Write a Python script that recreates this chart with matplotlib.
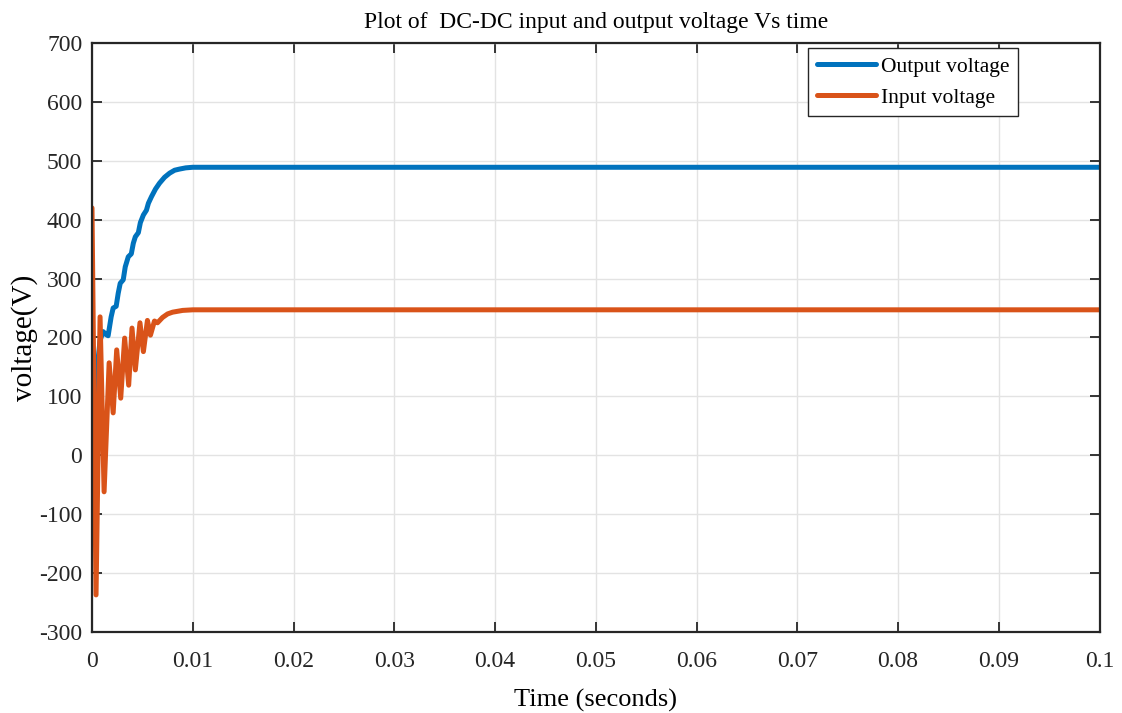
import matplotlib
matplotlib.use("Agg")
import matplotlib.pyplot as plt

plt.rcParams['font.family'] = ['Liberation Serif', 'DejaVu Serif']
plt.rcParams['axes.unicode_minus'] = False

# Output (boost stage) voltage vs time
t_out = [0.0, 0.0004, 0.0008, 0.0011, 0.0014, 0.0016, 0.0019, 0.0021, 0.0024,
         0.0026, 0.0028, 0.0031, 0.0033, 0.0036, 0.0039, 0.0041, 0.0043, 0.0046,
         0.0048, 0.0051, 0.0054, 0.0056, 0.0059, 0.0063, 0.0067, 0.0072, 0.0077,
         0.0082, 0.0087, 0.0093, 0.0100, 0.1]
v_out = [0, 130, 195, 210, 205, 203, 235, 250, 253,
         275, 292, 298, 320, 337, 342, 360, 371, 378,
         395, 408, 416, 428, 439, 452, 462, 472, 479,
         484, 486, 488, 489, 489]

# Input voltage vs time
t_in = [0.0, 0.0004, 0.0008, 0.0012, 0.0017, 0.0021, 0.00245, 0.00285, 0.00324,
        0.00364, 0.00397, 0.0043, 0.00476, 0.0051, 0.0055, 0.0058, 0.0062, 0.0065,
        0.0070, 0.0075, 0.0080, 0.0090, 0.0100, 0.1]
v_in = [420, -237, 235, -62, 157, 72, 179, 97, 199,
        119, 216, 145, 225, 176, 229, 204, 228, 225,
        234, 240, 243, 246, 247, 247]

x_ticks = [0, 0.01, 0.02, 0.03, 0.04, 0.05, 0.06, 0.07, 0.08, 0.09, 0.1]
x_labels = ['0', '0.01', '0.02', '0.03', '0.04', '0.05', '0.06', '0.07', '0.08', '0.09', '0.1']
y_ticks = [-300, -200, -100, 0, 100, 200, 300, 400, 500, 600, 700]
y_labels = ['-300', '-200', '-100', '0', '100', '200', '300', '400', '500', '600', '700']

fig = plt.figure(figsize=(11.22, 7.13), dpi=100)
ax = fig.add_axes([0.082, 0.1136, 0.898, 0.8261])

ax.plot(t_out, v_out, color='#0072BD', lw=3.6, label='Output voltage',
        solid_joinstyle='round', solid_capstyle='round')
ax.plot(t_in, v_in, color='#D95319', lw=3.6, label='Input voltage',
        solid_joinstyle='round', solid_capstyle='round')

ax.set_xlim(0, 0.1)
ax.set_ylim(-300, 700)
ax.set_xticks(x_ticks)
ax.set_xticklabels(x_labels)
ax.set_yticks(y_ticks)
ax.set_yticklabels(y_labels)
ax.tick_params(direction='in', length=7, width=1.3, top=True, right=True,
               labelsize=17, colors='#262626')
ax.tick_params(axis='x', pad=14)
ax.tick_params(axis='y', pad=7)
ax.grid(True, color='#e3e3e3', lw=1.0)
ax.set_axisbelow(True)
for s in ax.spines.values():
    s.set_linewidth(1.6)
    s.set_color('#262626')

ax.set_title('Plot of  DC-DC input and output voltage Vs time', fontsize=17, pad=11)
ax.set_xlabel('Time (seconds)', fontsize=19, labelpad=12)
ax.set_ylabel('voltage(V)', fontsize=21)
ax.yaxis.set_label_coords(-0.054, 0.5)

leg = ax.legend(loc='upper right', bbox_to_anchor=(0.9187, 0.9915), fontsize=15.5,
                fancybox=False, edgecolor='#262626', framealpha=1,
                handlelength=2.75, borderpad=0.4, labelspacing=0.5,
                handletextpad=0.2, borderaxespad=0.0)
leg.get_frame().set_linewidth(1.0)

fig.savefig('out.png', dpi=100)
